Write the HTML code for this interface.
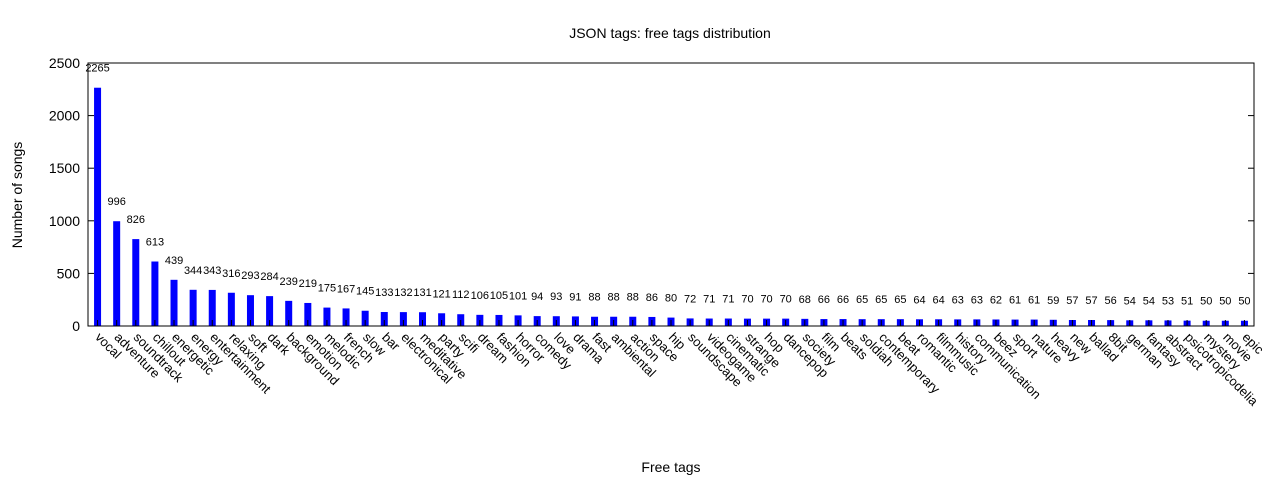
<!DOCTYPE html>
<html><head><meta charset="utf-8"><style>
body{margin:0;background:#fff;}
svg{display:block;font-family:"Liberation Sans",sans-serif;}
</style></head><body>
<svg id="chart" width="1280" height="480" xmlns="http://www.w3.org/2000/svg">
<text x="670" y="38" font-size="14" text-anchor="middle">JSON tags: free tags distribution</text>
<text transform="translate(22,195) rotate(-90)" font-size="14" text-anchor="middle">Number of songs</text>
<text x="671" y="472" font-size="14" text-anchor="middle">Free tags</text>
<g id="plot"></g>
</svg>
<script>
const categories=["vocal","adventure","soundtrack","chillout","energetic","energy","entertainment","relaxing","soft","dark","background","emotion","melodic","french","slow","bar","electronical","meditative","party","scifi","dream","fashion","horror","comedy","love","drama","fast","ambiental","action","space","hip","soundscape","videogame","cinematic","strange","hop","dancepop","society","film","beats","soldiah","contemporary","beat","romantic","filmmusic","history","communication","beez","sport","nature","heavy","new","ballad","8bit","german","fantasy","abstract","psicotropicodelia","mystery","movie","epic"];
const values=[2265,996,826,613,439,344,343,316,293,284,239,219,175,167,145,133,132,131,121,112,106,105,101,94,93,91,88,88,88,86,80,72,71,71,70,70,70,68,66,66,65,65,65,64,64,63,63,62,61,61,59,57,57,56,54,54,53,51,50,50,50];
const yTicks=[0,500,1000,1500,2000,2500];
const L=88,R=1254,T=63,B=326,YMAX=2500;
const NS="http://www.w3.org/2000/svg";
const g=document.getElementById('plot');
const slot=(R-L)/categories.length;
const xPos=i=>L+(i+0.5)*slot;
const yPos=v=>B-(v/YMAX)*(B-T);
function mk(t,a){const e=document.createElementNS(NS,t);for(const k in a)e.setAttribute(k,a[k]);g.appendChild(e);return e;}
yTicks.forEach(v=>{
  const y=yPos(v);
  const l=mk('line',{x1:L,x2:L+6,y1:y,y2:y,stroke:'#000'});
  
  
  const l2=mk('line',{x1:R-6,x2:R,y1:y,y2:y,stroke:'#000'});
  
  
  const t=mk('text',{x:L-8,y:y+5,'font-size':14,'text-anchor':'end'});
  t.textContent=v;
  
  
});
categories.forEach((c,i)=>{
  const x=xPos(i),v=values[i],y=yPos(v);
  const r=mk('rect',{x:x-3.5,y:y,width:7,height:B-y,fill:'#0000ff'});
  
  
  const vl=mk('text',{x:x,y:y-16,'font-size':11,'text-anchor':'middle'});
  vl.textContent=v;
  
  
  const tk=mk('line',{x1:x,x2:x,y1:B,y2:B-6,stroke:'#000'});
  
  
  const cl=mk('text',{transform:`translate(${x-3},${B+12}) rotate(45)`,'font-size':13});
  cl.textContent=c;
  
  
});
const f=mk('rect',{x:L,y:T,width:R-L,height:B-T,fill:'none',stroke:'#000'});


</script>
</body></html>
